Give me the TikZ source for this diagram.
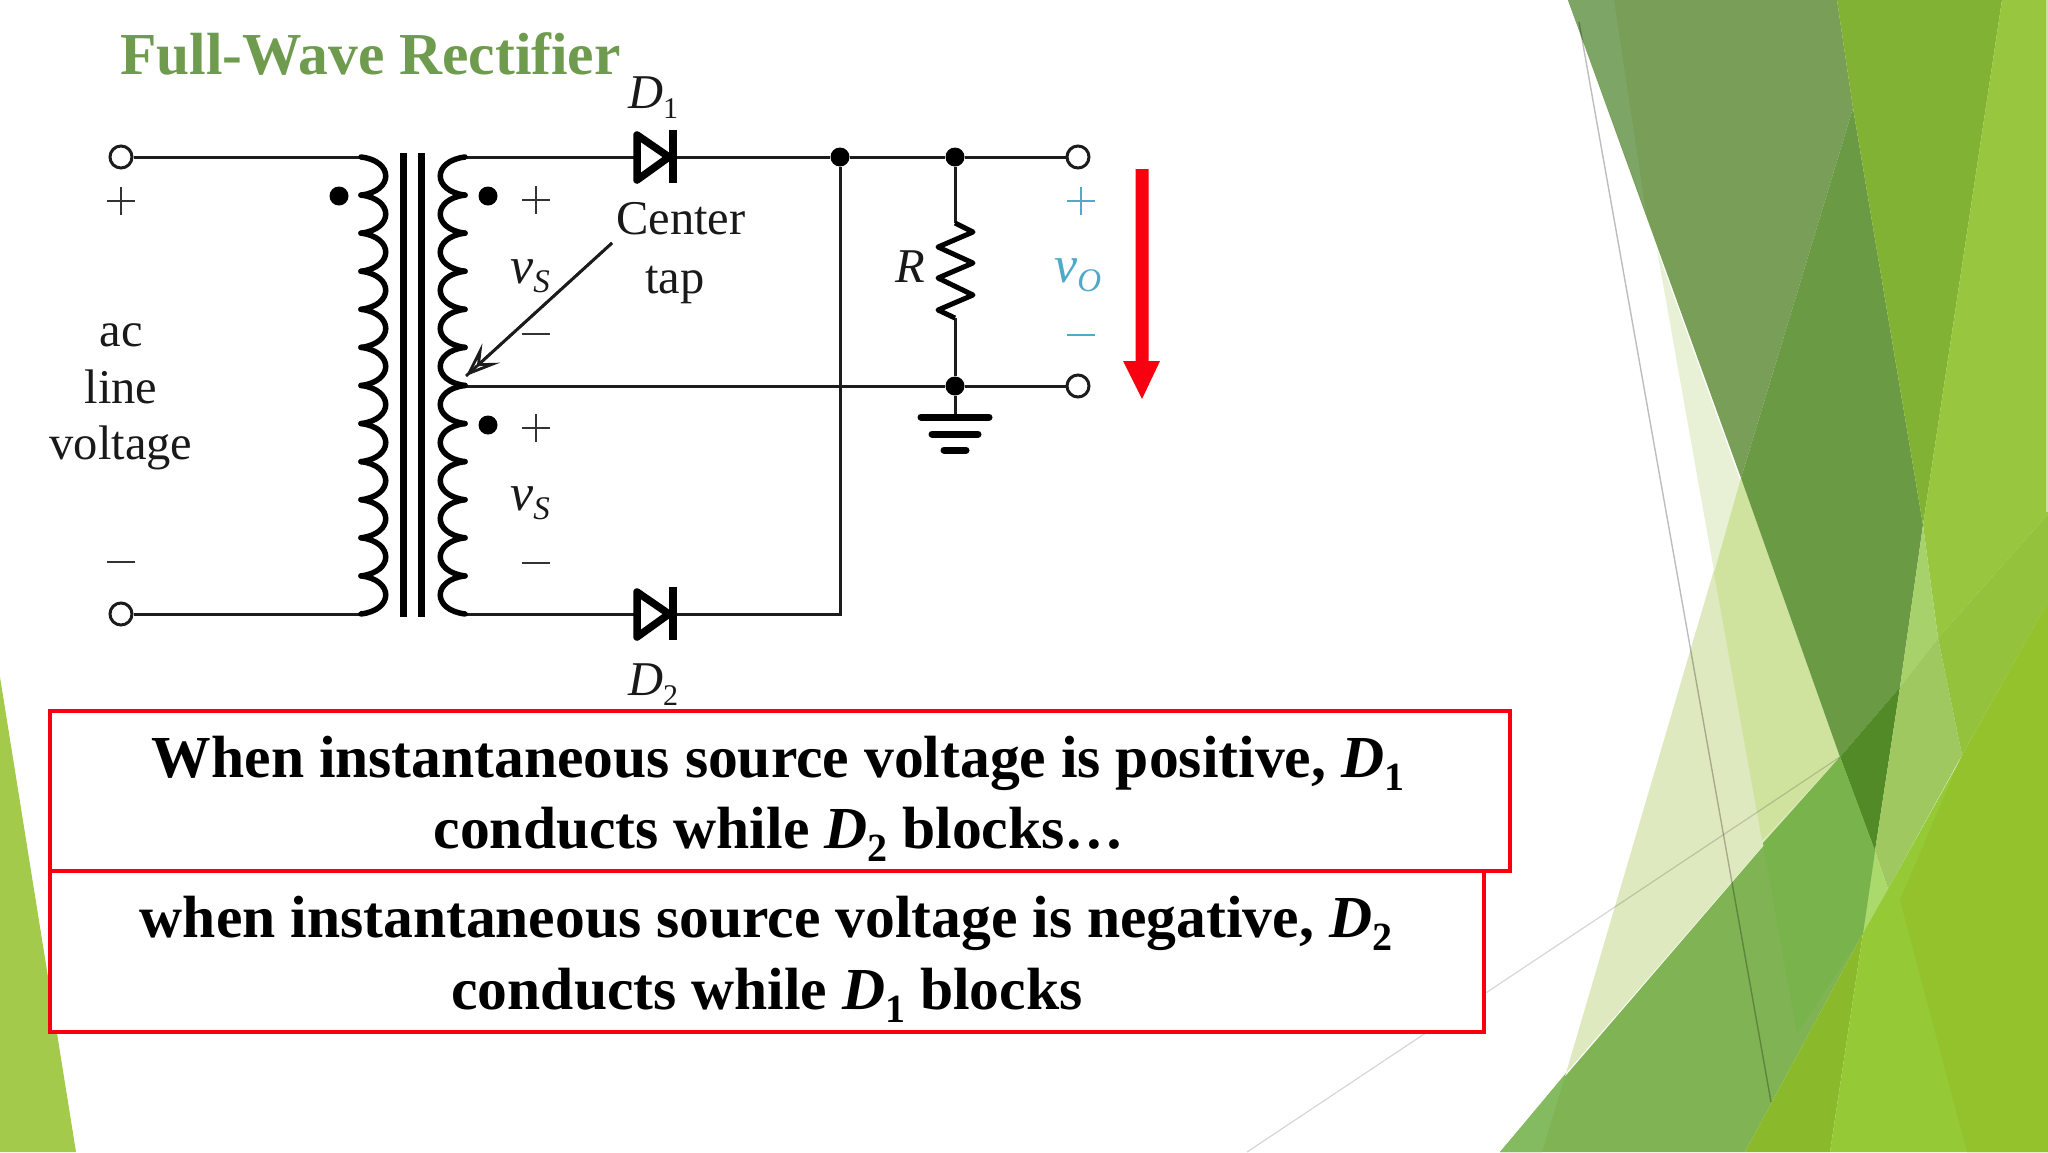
\documentclass[tikz,border=0pt]{standalone}
\usepackage{fontspec}
\usetikzlibrary{arrows.meta}
\setmainfont{Liberation Serif}
\newcommand\myfs[1]{\fontsize{#1}{#1}\selectfont}
\newcommand\subb[1]{\raisebox{-0.22em}{\fontsize{40}{40}\selectfont\bfseries\upshape #1}}
\newcommand\vsub[1]{{\myfs{52}\itshape v}\raisebox{-0.2em}{\myfs{33}\itshape #1}}
\definecolor{wirec}{HTML}{1C1C1C}
\definecolor{voc}{HTML}{4FA9C9}
\definecolor{redc}{HTML}{F80010}
\tikzset{
  wire/.style={draw=wirec,line width=3pt},
  thick coil/.style={draw=black,line width=5.5pt,line cap=round},
  term/.style={circle,draw=wirec,line width=3pt,fill=white,minimum size=22pt,inner sep=0pt},
  junc/.style={circle,fill=black,minimum size=19pt,inner sep=0pt},
  lab/.style={anchor=base,inner sep=0pt,text=black!90,font=\myfs{48.5}},
  boxtxt/.style={anchor=base,inner sep=0pt,text=black,font=\myfs{59.6}\bfseries},
  redbox/.style={draw=redc,fill=white,line width=4pt},
  sgn/.style={line width=2.4pt,draw=black!80},
}
\begin{document}
\begin{tikzpicture}[x=1pt,y=-1pt]
\useasboundingbox (0,0) rectangle (2048,1152);
\fill[white] (0,0) rectangle (2048,1152);
% background facets
\fill[color={rgb,255:red,163;green,202;blue,75}] (0,677) -- (76,1152) -- (0,1152) -- cycle;
\fill[color={rgb,255:red,223;green,233;blue,192}] (1566,1073) -- (1741,478) -- (1840,757) -- cycle;
\fill[color={rgb,255:red,232;green,241;blue,213}] (1657,250) -- (1840,757) -- (1762,841) -- cycle;
\fill[color={rgb,255:red,207;green,227;blue,159}] (1741,478) -- (1714,573) -- (1762,841) -- (1840,757) -- cycle;
\fill[color={rgb,255:red,120;green,158;blue,87}] (1568,0) -- (1837,0) -- (1853,108) -- (1741,478) -- cycle;
\fill[color={rgb,255:red,125;green,165;blue,101}] (1568,0) -- (1614,0) -- (1646,212) -- cycle;
\fill[color={rgb,255:red,107;green,154;blue,69}] (1741,478) -- (1853,108) -- (1923,525) -- (1900,687) -- (1840,757) -- cycle;
\fill[color={rgb,255:red,82;green,138;blue,40}] (1840,757) -- (1900,687) -- (1875,851) -- cycle;
\fill[color={rgb,255:red,130;green,178;blue,51}] (1837,0) -- (2002,0) -- (1923,525) -- (1853,108) -- cycle;
\fill[color={rgb,255:red,152;green,198;blue,62}] (2002,0) -- (2048,0) -- (2048,514) -- (1938,638) -- (1923,525) -- cycle;
\fill[color={rgb,255:red,166;green,209;blue,107}] (1923,525) -- (1938,638) -- (1900,687) -- cycle;
\fill[color={rgb,255:red,160;green,200;blue,96}] (1938,638) -- (1962,755) -- (1888,889) -- (1875,851) -- (1900,687) -- cycle;
\fill[color={rgb,255:red,148;green,194;blue,60}] (2048,514) -- (2048,602) -- (1962,755) -- (1938,638) -- cycle;
\fill[color={rgb,255:red,170;green,217;blue,108}] (1875,851) -- (1888,889) -- (1863,933) -- cycle;
\fill[color={rgb,255:red,127;green,179;blue,84}] (1500,1152) -- (1840,757) -- (1875,851) -- (1863,933) -- (1745,1152) -- cycle;
\fill[color={rgb,255:red,120;green,179;blue,75}] (1763,843) -- (1840,757) -- (1875,851) -- (1863,933) -- (1797,1033) -- cycle;
\fill[color={rgb,255:red,133;green,187;blue,96}] (1500,1152) -- (1566,1073) -- (1542,1152) -- cycle;
\fill[color={rgb,255:red,138;green,186;blue,43}] (1745,1152) -- (1863,933) -- (1830,1152) -- cycle;
\fill[color={rgb,255:red,149;green,201;blue,53}] (1830,1152) -- (1863,933) -- (1888,889) -- (2048,602) -- (2048,1152) -- cycle;
\fill[color={rgb,255:red,147;green,194;blue,44}] (1900,900) -- (1962,755) -- (2048,602) -- (2048,1152) -- (1967,1152) -- cycle;
\draw[black,opacity=.26,line width=1.4pt] (1579,22) -- (1771,1102);
\draw[black,opacity=.16,line width=1.2pt] (1247,1152) -- (1840,757);
\draw[white,opacity=.5,line width=1.5pt] (2047,0) -- (2047,512);

% title
\node[anchor=base west,inner sep=0pt,text={rgb,255:red,110;green,155;blue,78}] (title) at (120,74) {\myfs{59.5}\bfseries Full-Wave Rectifier};

% coordinates
\coordinate (ptop) at (362,157);
\coordinate (pbot) at (362,614);
\coordinate (stop) at (465,157);
\coordinate (smid) at (465,386);
\coordinate (sbot) at (465,614);
\coordinate (d1a) at (638,157);
\coordinate (d1k) at (673,157);
\coordinate (d2a) at (638,614);
\coordinate (d2k) at (673,614);
\coordinate (rtop) at (955,223);
\coordinate (rbot) at (955,318);
\coordinate (gnd) at (955,417);
\coordinate (vb) at (840,614);
\coordinate (tapfrom) at (612,243);
\coordinate (tapto) at (466,376);

% terminals and junctions
\node[term] (t1) at (121,157) {};
\node[term] (t2) at (121,614) {};
\node[term] (t3) at (1078,157) {};
\node[term] (t4) at (1078,386) {};
\node[junc] (j1) at (840,157) {};
\node[junc] (j2) at (955,157) {};
\node[junc] (j3) at (955,386) {};

% wires
\draw[wire] (t1) -- (ptop);
\draw[wire] (t2) -- (pbot);
\draw[wire] (stop) -- (d1a);
\draw[wire] (d1k) -- (j1);
\draw[wire] (j1) -- (j2);
\draw[wire] (j2) -- (t3);
\draw[wire] (sbot) -- (d2a);
\draw[wire] (d2k) -- (vb) -- (j1);
\draw[wire] (smid) -- (j3);
\draw[wire] (j3) -- (t4);
\draw[wire] (j2) -- (rtop);
\draw[wire] (rbot) -- (j3);
\draw[wire] (j3) -- (gnd);

% coils
\foreach \i in {0,...,11} {
  \pgfmathsetmacro\ya{157+38.08*\i}
  \pgfmathsetmacro\yb{157+38.08*(\i+1)}
  \draw[thick coil] (361,\ya) .. controls (394,\ya+4) and (394,\yb-4) .. (361,\yb);
  \draw[thick coil] (465,\ya) .. controls (432,\ya+4) and (432,\yb-4) .. (465,\yb);
}
% core
\draw[black,line width=7pt] (403,153) -- (403,617);
\draw[black,line width=7pt] (421,153) -- (421,617);

% dots
\node[junc] (dp) at (339,196) {};
\node[junc] (ds1) at (488,196) {};
\node[junc] (ds2) at (488,425) {};

% signs
\draw[sgn] (107,201) -- (135,201) (121,187) -- (121,215);
\draw[sgn] (522,200) -- (550,200) (536,186) -- (536,214);
\draw[sgn] (522,428) -- (550,428) (536,414) -- (536,442);
\draw[sgn] (522,334) -- (550,334);
\draw[sgn] (522,563) -- (550,563);
\draw[sgn] (107,562) -- (135,562);
\draw[sgn,draw=voc] (1067,201) -- (1095,201) (1081,187) -- (1081,215);
\draw[sgn,draw=voc] (1067,335) -- (1095,335);

% diodes
\draw[black,line width=7.5pt,line join=round,fill=white] (637,135) -- (637,180) -- (669,157) -- cycle;
\draw[black,line width=8pt] (673,130) -- (673,183);
\draw[black,line width=7.5pt,line join=round,fill=white] (637,592) -- (637,637) -- (669,614) -- cycle;
\draw[black,line width=8pt] (673,587) -- (673,640);

% resistor
\draw[black,line width=5pt,line join=round] (rtop) -- (973,232) -- (938,247) -- (973,263) -- (938,278) -- (973,295) -- (938,310) -- (rbot);

% ground
\draw[black,line width=7pt,line cap=round] (921,417) -- (989,417);
\draw[black,line width=7pt,line cap=round] (932,434) -- (978,434);
\draw[black,line width=7pt,line cap=round] (944,450) -- (966,450);

% tap arrow
\draw[wirec,line width=2.8pt,-{Stealth[length=34pt,width=26pt,inset=15pt,fill=white]}] (tapfrom) -- (tapto);
\draw[wirec,line width=2.8pt] (tapfrom) -- (tapto);

% red arrow
\fill[color=redc] (1135.5,169) -- (1148.5,169) -- (1148.5,361) -- (1160,361) -- (1142,399) -- (1123,361) -- (1135.5,361) -- cycle;

% labels
\node[lab] (lac) at (121,346) {ac};
\node[lab] (lline) at (121,403) {line};
\node[lab] (lvolt) at (121,459) {voltage};
\node[lab] (lcen) at (681,234) {Center};
\node[lab] (ltap) at (675,293) {tap};
\node[lab,anchor=base west] (d1) at (628,108) {\itshape D\raisebox{-0.22em}{\myfs{30}\upshape 1}};
\node[lab,anchor=base west] (d2) at (628,695) {\itshape D\raisebox{-0.22em}{\myfs{30}\upshape 2}};
\node[lab,anchor=base west] (vs1) at (510,283) {\vsub{S}};
\node[lab,anchor=base west] (vs2) at (510,510) {\vsub{S}};
\node[lab,anchor=base west] (r) at (895,282) {\itshape R};
\node[lab,anchor=base west,text=voc] (vo) at (1054,282) {\vsub{O}};

% boxes
\draw[redbox] (50,711) rectangle (1510,871);
\draw[redbox] (50,871) rectangle (1484,1032);
\node[boxtxt] (l1) at (778,777) {When instantaneous source voltage is positive, \textit{D}\subb{1}};
\node[boxtxt] (l2) at (779,848) {conducts while \textit{D}\subb{2} blocks\ldots};
\node[boxtxt] (l3) at (766,937) {when instantaneous source voltage is negative, \textit{D}\subb{2}};
\node[boxtxt] (l4) at (767,1009) {conducts while \textit{D}\subb{1} blocks};
\end{tikzpicture}
\end{document}
